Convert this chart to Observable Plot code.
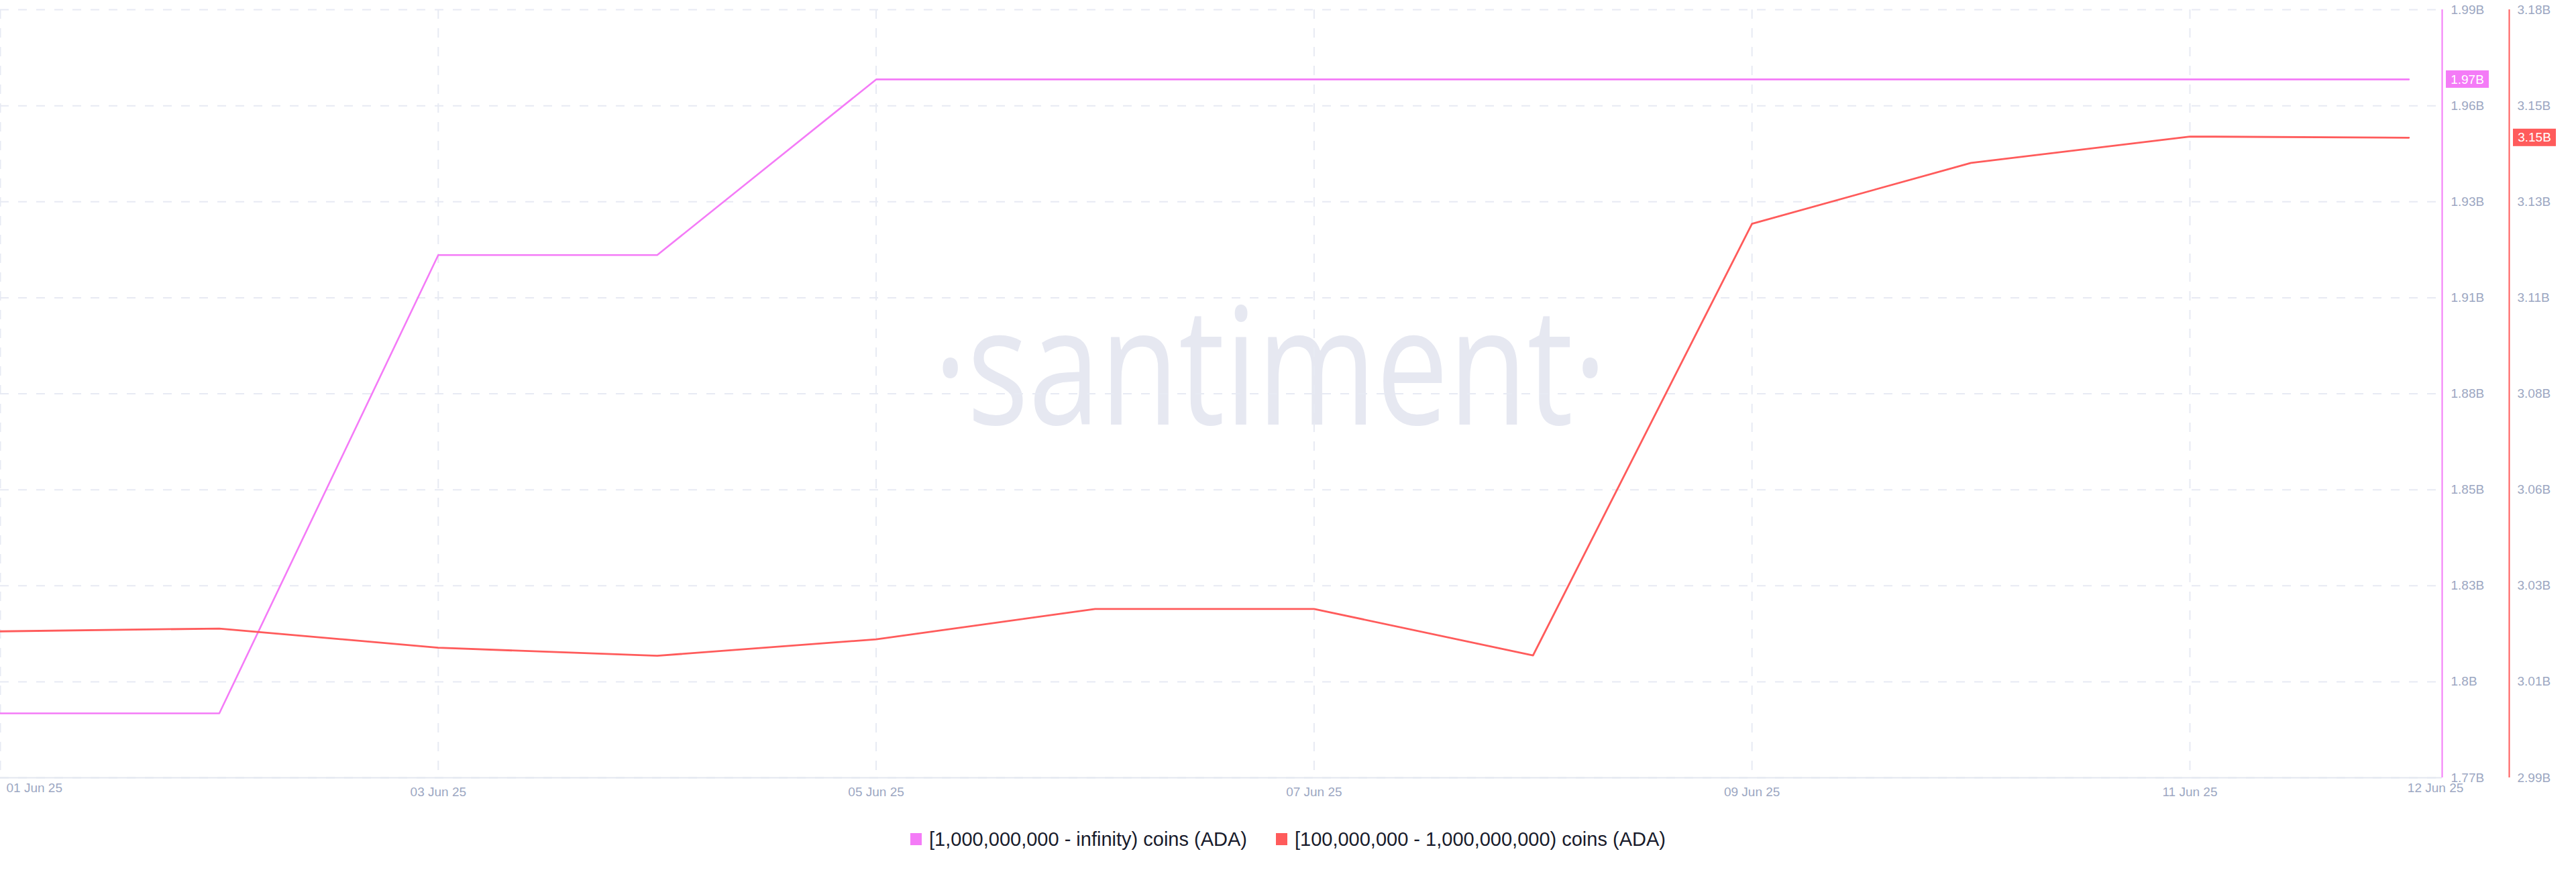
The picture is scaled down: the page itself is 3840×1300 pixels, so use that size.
<!DOCTYPE html>
<html><head><meta charset="utf-8">
<script src="https://cdn.jsdelivr.net/npm/d3@7"></script>
<script src="https://cdn.jsdelivr.net/npm/@observablehq/plot@0.6"></script>
<style>
html,body{margin:0;padding:0;background:#fff;}
#wrap{position:relative;width:3840px;height:1300px;overflow:hidden;background:#fff;}
#wrap svg{position:absolute;left:0;top:0;}
#legend{position:absolute;left:0;top:1232px;width:3840px;height:38px;display:flex;justify-content:center;align-items:center;font-family:"Liberation Sans",Arial,sans-serif;font-size:29px;color:#181b2b;}
.item{display:flex;align-items:center;}
.item + .item{margin-left:43px;}
.sw{width:17px;height:18px;margin-right:11px;}
</style></head><body>
<div id="wrap"><div id="legend"></div></div>
<script>
// ---- data ----
const dates = ["2025-06-01","2025-06-02","2025-06-03","2025-06-04","2025-06-05","2025-06-06",
               "2025-06-07","2025-06-08","2025-06-09","2025-06-10","2025-06-11","2025-06-12"];
const whaleLabel = "[1,000,000,000 - infinity) coins (ADA)";
const sharkLabel = "[100,000,000 - 1,000,000,000) coins (ADA)";
// billions of ADA
const whaleValues = [1.7901, 1.7901, 1.9190, 1.9190, 1.9684, 1.9684, 1.9684, 1.9684, 1.9684, 1.9684, 1.9684, 1.9684];
const sharkValues = [3.0226, 3.0233, 3.0185, 3.0165, 3.0206, 3.0282, 3.0282, 3.0166, 3.1245, 3.1397, 3.1463, 3.1460];
const whaleTicks = [1.772, 1.799, 1.826, 1.853, 1.880, 1.907, 1.934, 1.961, 1.988];
const sharkTicks = [2.986, 3.010, 3.034, 3.058, 3.082, 3.106, 3.130, 3.154, 3.178];
const xGridDates = ["2025-06-01","2025-06-03","2025-06-05","2025-06-07","2025-06-09","2025-06-11"];
const xLabelDates = ["2025-06-03","2025-06-05","2025-06-07","2025-06-09","2025-06-11"];
const xFirstLabel = ["2025-06-01"];
const xLastLabel = ["2025-06-12"];
const xDomain = ["2025-06-01T00:00Z", "2025-06-12T03:39Z"];
const watermark = "·santiment·";

const MAGENTA = "#F47BF7", RED = "#FF5B5B", TICK = "#9CA7C2", GRID = "#E7EAF3", AXIS = "#E3E7F0";
const FS = 19;

const toDate = s => new Date(s);
const fmtB = d => (Math.round(d * 100) / 100) + "B";
const fmtDate = d3.utcFormat("%d %b %y");
const whaleData = dates.map((d, i) => ({date: toDate(d), value: whaleValues[i]}));
const sharkData = dates.map((d, i) => ({date: toDate(d), value: sharkValues[i]}));

const base = {
  width: 3840, height: 1200,
  marginLeft: 0, marginRight: 200, marginTop: 14, marginBottom: 41,
  style: {background: "transparent", fontFamily: "'Liberation Sans', Arial, sans-serif", fontSize: "19px", overflow: "visible"},
  x: {type: "utc", domain: xDomain.map(toDate), axis: null}
};

const plotA = Plot.plot({
  ...base,
  y: {domain: [whaleTicks[0], whaleTicks[whaleTicks.length - 1]]},
  marks: [
    Plot.text([watermark], {text: d => d, frameAnchor: "middle", dx: 73, dy: -32, fontSize: 243,
      fontFamily: "'Open Sans', 'Noto Sans', sans-serif", fill: "#E6E8F1"}),
    Plot.gridX({ticks: xGridDates.map(toDate), stroke: GRID, strokeOpacity: 1, strokeWidth: 2, strokeDasharray: "14,14"}),
    Plot.gridY({ticks: whaleTicks, stroke: GRID, strokeOpacity: 1, strokeWidth: 2, strokeDasharray: "13,14"}),
    Plot.ruleY([whaleTicks[0]], {stroke: AXIS, strokeWidth: 2}),
    Plot.ruleX([toDate(xDomain[1])], {stroke: MAGENTA, strokeWidth: 2}),
    Plot.axisY({anchor: "right", ticks: whaleTicks, tickFormat: fmtB, tickSize: 0, tickPadding: 13, fill: TICK, fontSize: FS, label: null}),
    Plot.axisX({ticks: xLabelDates.map(toDate), tickFormat: fmtDate, tickSize: 0, tickPadding: 14, fill: TICK, fontSize: FS, label: null}),
    Plot.text(xFirstLabel.map(toDate), {x: d => d, text: fmtDate, frameAnchor: "bottom", dy: 21, dx: 9, textAnchor: "start", fill: TICK, fontSize: FS}),
    Plot.text(xLastLabel.map(toDate), {x: d => d, text: fmtDate, frameAnchor: "bottom", dy: 21, dx: -2, textAnchor: "start", fill: TICK, fontSize: FS}),
    Plot.line(whaleData, {x: "date", y: "value", stroke: MAGENTA, strokeWidth: 2.6})
  ]
});

const plotB = Plot.plot({
  ...base,
  y: {domain: [sharkTicks[0], sharkTicks[sharkTicks.length - 1]], axis: null},
  marks: [
    Plot.ruleX([toDate(xDomain[1])], {dx: 100, stroke: RED, strokeWidth: 2}),
    Plot.axisY({anchor: "right", ticks: sharkTicks, tickFormat: fmtB, tickSize: 0, tickPadding: 112, fill: TICK, fontSize: FS, label: null}),
    Plot.line(sharkData, {x: "date", y: "value", stroke: RED, strokeWidth: 2.8})
  ]
});

const wrap = document.getElementById("wrap");
wrap.appendChild(plotA);
wrap.appendChild(plotB);

d3.select(plotA).selectAll("text").filter(function() { return this.textContent === watermark; })
  .attr("textLength", 1004).attr("lengthAdjust", "spacingAndGlyphs");

function addBadge(svg, value, color, offset) {
  const sx = svg.scale("x"), sy = svg.scale("y");
  const y = sy.apply(value);
  const x0 = sx.apply(toDate(xDomain[1])) + offset;
  const g = d3.select(svg).append("g");
  g.append("rect").attr("x", x0).attr("y", y - 13).attr("width", 64).attr("height", 26).attr("fill", color);
  g.append("text").attr("x", x0 + 32).attr("y", y).attr("dy", "0.35em").attr("text-anchor", "middle")
    .attr("fill", "#fff").attr("font-size", FS).text(fmtB(value));
}
addBadge(plotA, whaleValues[whaleValues.length - 1], MAGENTA, 6);
addBadge(plotB, sharkValues[sharkValues.length - 1], RED, 106);

const legend = d3.select("#legend");
[[whaleLabel, MAGENTA], [sharkLabel, RED]].forEach(([label, color]) => {
  const it = legend.append("div").attr("class", "item");
  it.append("div").attr("class", "sw").style("background", color);
  it.append("span").text(label);
});
</script>
</body></html>
